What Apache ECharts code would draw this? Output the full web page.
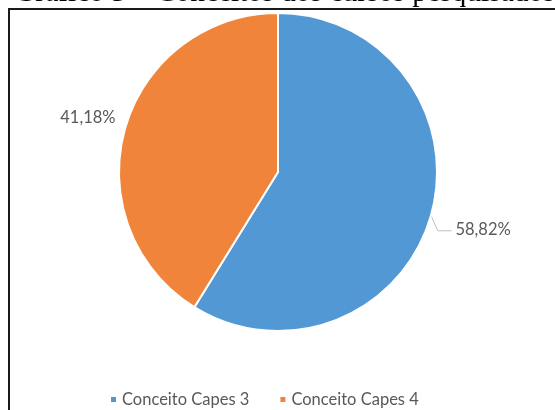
<!DOCTYPE html>
<html>
<head>
<meta charset="utf-8">
<script src="https://cdn.jsdelivr.net/npm/echarts@6/dist/echarts.min.js"></script>
<style>
  html, body { margin: 0; padding: 0; background: #fff; }
  #chart { width: 555px; height: 410px; }
</style>
</head>
<body>
<div id="chart"></div>
<script>
// Distribution of surveyed courses by CAPES grade
const captionText = 'Gráfico 3 – Conceitos dos cursos pesquisados';
const categories = ['Conceito Capes 3', 'Conceito Capes 4'];
const shares = [58.82, 41.18];
const colors = ['#5298D4', '#F0843A'];

const fmt = v => v.toFixed(2).replace('.', ',') + '%';

// nudges that pull each outside label into its usual spot beside the pie
const labelNudge = [{ dx: -2, dy: 11 }, { dx: 17, dy: -8 }];

function placeLabel(p) {
  const n = labelNudge[p.dataIndex];
  const out = { dx: n.dx, dy: n.dy };
  if (p.labelLinePoints && p.dataIndex === 0) {
    const start = p.labelLinePoints[0];
    const r = p.labelRect;
    const cy = r.y + r.height / 2 + n.dy + 1;
    const lx = r.x + n.dx - 4;
    // elbow leader: drop down from the slice edge, then run across to the text
    out.labelLinePoints = [start, [start[0] + 7, cy], [lx, cy]];
  }
  return out;
}

const chart = echarts.init(document.getElementById('chart'));
chart.setOption({
  animation: false,
  color: colors,
  graphic: [
    {
      type: 'text',
      left: 14,
      top: -22,
      style: {
        text: captionText,
        font: '29.5px "Liberation Serif", "Times New Roman", serif',
        fill: '#000'
      }
    },
    {
      type: 'rect',
      shape: { x: 9, y: 9, width: 600, height: 500 },
      style: { fill: 'none', stroke: '#1a1a1a', lineWidth: 2 },
      silent: true
    }
  ],
  legend: {
    bottom: -3,
    left: 104,
    itemWidth: 7,
    itemHeight: 7,
    itemGap: 29,
    icon: 'rect',
    textStyle: { fontFamily: 'Lato, "Noto Sans", sans-serif', fontSize: 16.5, color: '#595959' },
    data: categories
  },
  series: [{
    type: 'pie',
    center: [278, 172],
    radius: 159,
    startAngle: 90,
    clockwise: true,
    itemStyle: { borderColor: '#fff', borderWidth: 2 },
    label: {
      position: 'outside',
      formatter: p => fmt(p.value),
      fontFamily: 'Lato, "Noto Sans", sans-serif',
      fontSize: 16.5,
      color: '#595959'
    },
    labelLine: {
      show: true,
      length: 12,
      length2: 10,
      lineStyle: { color: '#bfbfbf', width: 1 }
    },
    labelLayout: placeLabel,
    data: categories.map((c, i) => ({
      name: c,
      value: shares[i],
      labelLine: { show: i === 0 }
    }))
  }]
});
</script>
</body>
</html>
